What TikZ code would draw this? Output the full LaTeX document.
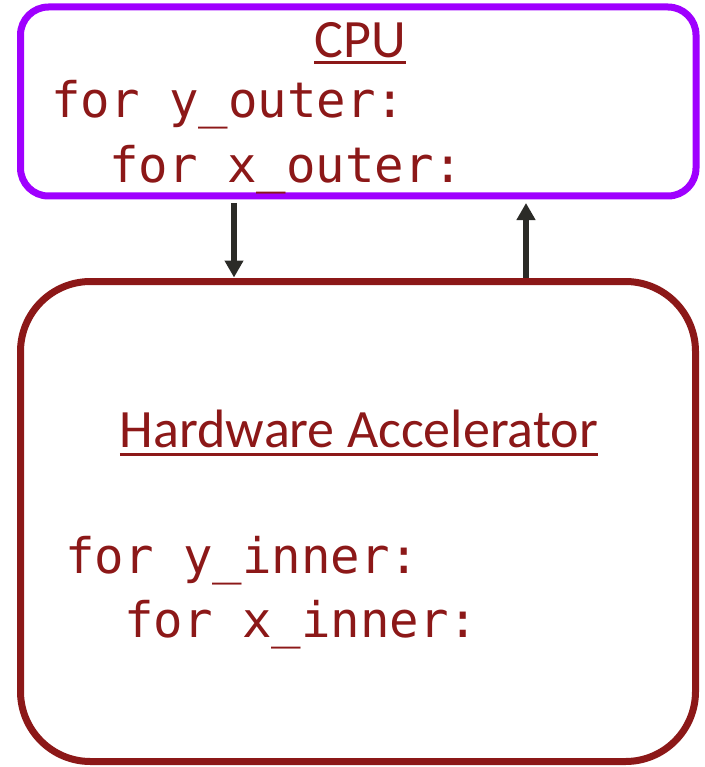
\documentclass[tikz,border=0pt]{standalone}
\usepackage{fontspec}
\setmainfont{Carlito}
\newfontfamily\codefont{DejaVu Sans Mono}
\usetikzlibrary{arrows.meta}
\definecolor{cpupurple}{HTML}{9F00FF}
\definecolor{accred}{HTML}{8C1818}
\definecolor{arrowgray}{HTML}{2B2B27}
\tikzset{
  unitbox/.style={draw, rectangle, line width=7pt, inner sep=0pt, outer sep=0pt},
  titletext/.style={anchor=base, inner sep=0pt, text=accred, font=\fontsize{54}{62}\selectfont},
  codetext/.style={anchor=base west, inner sep=0pt, text=accred, font=\codefont\fontsize{49}{56}\selectfont},
  uline/.style={draw=accred, line width=3pt},
  flow/.style={draw=arrowgray, line width=5.5pt, -{Triangle[width=18pt,length=17pt]}}
}
\begin{document}
\begin{tikzpicture}[x=1pt, y=-1pt]
  \useasboundingbox (0,0) rectangle (704,767);

  % CPU and accelerator boxes
  \node[unitbox, draw=cpupurple, rounded corners=28pt,
        minimum width=675.5pt, minimum height=189pt] (cpu) at (358.25,101.5) {};
  \node[unitbox, draw=accred, rounded corners=70pt,
        minimum width=675pt, minimum height=480pt] (acc) at (358,521.5) {};

  % CPU contents
  \node[titletext] (cputitle) at (360,58) {CPU};
  \draw[uline] ([yshift=-5pt]cputitle.base west) -- ([yshift=-5pt]cputitle.base east);
  \node[codetext] (yout) at (51,118) {for y\_outer:};
  \node[codetext] (xout) at (109,183) {for x\_outer:};

  % accelerator contents
  \node[titletext] (acctitle) at (359,447) {Hardware Accelerator};
  \draw[uline] ([yshift=-7pt]acctitle.base west) -- ([yshift=-7pt]acctitle.base east);
  \node[codetext] (yin) at (65,573) {for y\_inner:};
  \node[codetext] (xin) at (124,637) {for x\_inner:};

  % data flow between the two units
  \coordinate (down) at (234,0);
  \coordinate (up) at (526,0);
  \draw[flow, shorten <=7pt, shorten >=4pt] (cpu.south -| down) -- (acc.north -| down);
  \draw[flow, shorten <=4pt, shorten >=7pt] (acc.north -| up) -- (cpu.south -| up);
\end{tikzpicture}
\end{document}
